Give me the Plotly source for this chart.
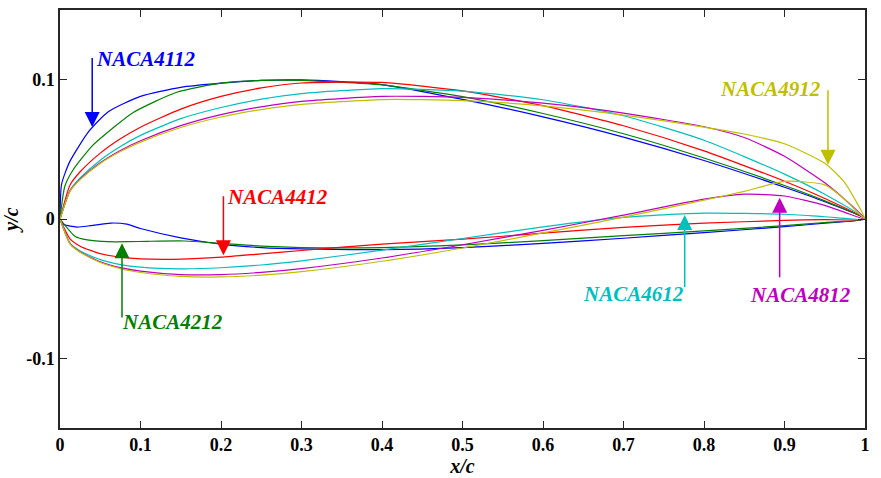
import plotly.graph_objects as go

# ---- data (x/c, y/c) ----
XU_4112 = [0, 0.002, 0.012, 0.036, 0.06, 0.1, 0.15, 0.2, 0.25, 0.3, 0.4, 0.5, 0.6, 0.7, 0.8, 0.9, 0.95, 1.0]
YU_4112 = [0, 0.025, 0.041, 0.063, 0.077, 0.088, 0.0945, 0.0975, 0.0995, 0.0998, 0.0965, 0.0858, 0.0733, 0.0588, 0.042, 0.0228, 0.0124, 0]
XL_4112 = [0, 0.005, 0.021, 0.038, 0.063, 0.083, 0.1, 0.15, 0.2, 0.25, 0.3, 0.4, 0.5, 0.6, 0.7, 0.8, 0.9, 0.95, 1.0]
YL_4112 = [0, -0.004, -0.0058, -0.0048, -0.0029, -0.0037, -0.0068, -0.0135, -0.018, -0.0205, -0.0215, -0.022, -0.0205, -0.0175, -0.0138, -0.0098, -0.0055, -0.003, 0]

XU_4212 = [0, 0.006, 0.016, 0.04, 0.065, 0.091, 0.145, 0.2, 0.25, 0.3, 0.4, 0.5, 0.6, 0.7, 0.8, 0.9, 0.95, 1.0]
YU_4212 = [0, 0.0235, 0.035, 0.0525, 0.065, 0.0765, 0.091, 0.0975, 0.0995, 0.0995, 0.0962, 0.0878, 0.0757, 0.0612, 0.0438, 0.024, 0.013, 0]
XL_4212 = [0, 0.019, 0.034, 0.06, 0.085, 0.109, 0.155, 0.2, 0.25, 0.3, 0.4, 0.5, 0.6, 0.7, 0.8, 0.9, 0.95, 1.0]
YL_4212 = [0, -0.0125, -0.015, -0.0163, -0.0163, -0.016, -0.0158, -0.0175, -0.0195, -0.0205, -0.0205, -0.0186, -0.0155, -0.012, -0.0085, -0.0048, -0.0025, 0]

X_STD = [0, 0.0125, 0.025, 0.05, 0.075, 0.1, 0.15, 0.2, 0.25, 0.3, 0.4, 0.5, 0.6, 0.7, 0.8, 0.9, 0.95, 1.0]
YU_4412 = [0, 0.0244, 0.0339, 0.0473, 0.0576, 0.0659, 0.0789, 0.0880, 0.0941, 0.0976, 0.0980, 0.0919, 0.0814, 0.0669, 0.0489, 0.0271, 0.0147, 0]
YL_4412 = [0, -0.0143, -0.0195, -0.0249, -0.0274, -0.0286, -0.0288, -0.0274, -0.0250, -0.0226, -0.0180, -0.0145, -0.0102, -0.0060, -0.0030, -0.0010, -0.0004, 0]
YU_4612 = [0, 0.0206, 0.0294, 0.0422, 0.0520, 0.0600, 0.0720, 0.0800, 0.0860, 0.0900, 0.0936, 0.0918, 0.0856, 0.0741, 0.0565, 0.0322, 0.0177, 0]
YL_4612 = [0, -0.0173, -0.0229, -0.0292, -0.0327, -0.0346, -0.0358, -0.0350, -0.0330, -0.0300, -0.0224, -0.0140, -0.0056, 0.0012, 0.0042, 0.0034, 0.0016, 0]

X_AFT = [0, 0.0125, 0.025, 0.05, 0.075, 0.1, 0.15, 0.2, 0.25, 0.3, 0.4, 0.5, 0.6, 0.7, 0.8, 0.85, 0.9, 0.95, 0.975, 1.0]
YU_4812 = [0, 0.0202, 0.0286, 0.0404, 0.0492, 0.0562, 0.0670, 0.0749, 0.0805, 0.0844, 0.0880, 0.0873, 0.0831, 0.0760, 0.0662, 0.0585, 0.0450, 0.0260, 0.0140, 0]
YL_4812 = [0, -0.0177, -0.0237, -0.0307, -0.0349, -0.0374, -0.0399, -0.0399, -0.0383, -0.0356, -0.0280, -0.0185, -0.0081, 0.0028, 0.0142, 0.0178, 0.0165, 0.0098, 0.0048, 0]
YU_4912 = [0, 0.0200, 0.0283, 0.0399, 0.0484, 0.0552, 0.0657, 0.0732, 0.0785, 0.0822, 0.0857, 0.0850, 0.0812, 0.0746, 0.0660, 0.0610, 0.0540, 0.0400, 0.0260, 0]
YL_4912 = [0, -0.0178, -0.0239, -0.0312, -0.0356, -0.0384, -0.0412, -0.0416, -0.0403, -0.0378, -0.0303, -0.0208, -0.0100, 0.0014, 0.0135, 0.0198, 0.0270, 0.0245, 0.0140, 0]

NAMES = ["NACA4112", "NACA4212", "NACA4412", "NACA4612", "NACA4812", "NACA4912"]
COLORS = ["#0000FF", "#008000", "#FF0000", "#00BFBF", "#BF00BF", "#BFBF00"]

X_TICKS = [0, 0.1, 0.2, 0.3, 0.4, 0.5, 0.6, 0.7, 0.8, 0.9, 1]
X_TICK_LABELS = ["0", "0.1", "0.2", "0.3", "0.4", "0.5", "0.6", "0.7", "0.8", "0.9", "1"]
Y_TICKS = [-0.1, 0, 0.1]
Y_TICK_LABELS = ["-0.1", "0", "0.1"]

# annotation anchor points (arrow tip, arrow tail, text position) in data units
ARROW_TIP = [(0.040, 0.066), (0.077, -0.0174), (0.203, -0.026), (0.776, 0.0029), (0.894, 0.0152), (0.954, 0.039)]
ARROW_TAIL = [(0.040, 0.1167), (0.077, -0.0717), (0.203, 0.0174), (0.776, -0.050), (0.894, -0.0428), (0.954, 0.0935)]
LABEL_POS = [(0.042, 0.1145, "left"), (0.074, -0.0739, "left"), (0.205, 0.016, "left"),
             (0.778, -0.0536, "right"), (0.855, -0.0543, "left"), (0.948, 0.0935, "right")]

surfaces = [
    (XU_4112, YU_4112, XL_4112, YL_4112),
    (XU_4212, YU_4212, XL_4212, YL_4212),
    (X_STD, YU_4412, X_STD, YL_4412),
    (X_STD, YU_4612, X_STD, YL_4612),
    (X_AFT, YU_4812, X_AFT, YL_4812),
    (X_AFT, YU_4912, X_AFT, YL_4912),
]

fig = go.Figure()
for (xu, yu, xl, yl), name, col in zip(surfaces, NAMES, COLORS):
    fig.add_trace(go.Scatter(x=list(reversed(xu)) + list(xl), y=list(reversed(yu)) + list(yl),
                             mode="lines", line=dict(color=col, width=1.2, shape="spline", smoothing=0.6),
                             name=name, showlegend=False, hoverinfo="skip"))

FONT = "Liberation Serif, Times New Roman, serif"
for name, col, tip, tail, lab in zip(NAMES, COLORS, ARROW_TIP, ARROW_TAIL, LABEL_POS):
    fig.add_annotation(x=tip[0], y=tip[1], ax=tail[0], ay=tail[1], axref="x", ayref="y",
                       xref="x", yref="y", text="", showarrow=True, arrowhead=2,
                       arrowsize=2.0, arrowwidth=1.5, arrowcolor=col)
    fig.add_annotation(x=lab[0], y=lab[1], xref="x", yref="y", text="<b><i>%s</i></b>" % name,
                       showarrow=False, xanchor=lab[2], yanchor="middle",
                       font=dict(family=FONT, size=21, color=col))

axis_common = dict(showline=True, linecolor="#262626", linewidth=1.5, mirror="ticks",
                   ticks="inside", ticklen=7, tickwidth=1.2, tickcolor="#262626",
                   showgrid=False, zeroline=False, automargin=False,
                   tickfont=dict(family=FONT, size=18, color="black", weight="bold"))

fig.update_xaxes(range=[0, 1], tickvals=X_TICKS, ticktext=X_TICK_LABELS,
                 title=dict(text="<b><i>x/c</i></b>", font=dict(family=FONT, size=20, color="black"), standoff=2),
                 **axis_common)
fig.update_yaxes(range=[-0.15, 0.15], tickvals=Y_TICKS, ticktext=Y_TICK_LABELS,
                 title=dict(text="<b><i>y/c</i></b>", font=dict(family=FONT, size=20, color="black"), standoff=10),
                 **axis_common)

fig.update_layout(width=881, height=478, margin=dict(l=60, r=16, t=10, b=50),
                  plot_bgcolor="white", paper_bgcolor="white")

fig.write_html("out.html")
